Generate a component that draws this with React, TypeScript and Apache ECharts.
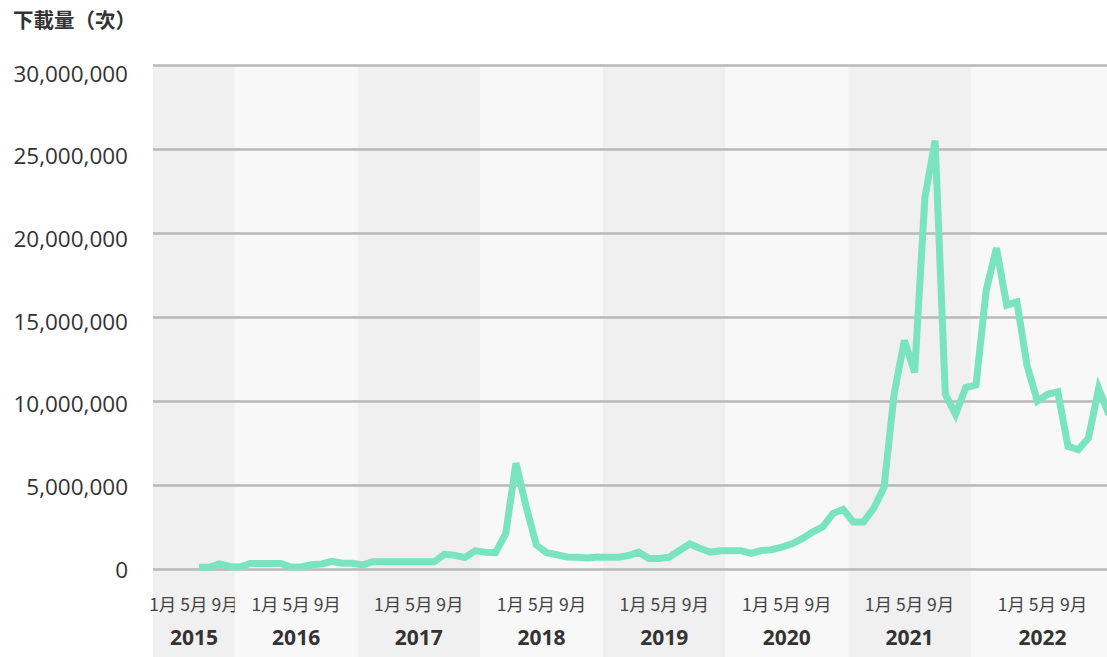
import React, { useEffect, useRef } from 'react';
import * as echarts from 'echarts';

// Monthly categories from 2015-05 to 2023-02
const firstMonth = '2015-05';
const lastMonth = '2023-02';
const months: string[] = [];
{
  let [y, m] = firstMonth.split('-').map(Number);
  while (true) {
    const key = `${y}-${String(m).padStart(2, '0')}`;
    months.push(key);
    if (key === lastMonth) break;
    m++;
    if (m > 12) { m = 1; y++; }
  }
}

// Monthly downloads (次)
const downloads: (number | null)[] = [
  // 2015 May-Dec
  null, null, null, null, 100000, 100000, 300000, 150000,
  // 2016
  120000, 330000, 330000, 330000, 330000, 120000, 120000, 250000, 300000, 450000, 340000, 340000,
  // 2017
  240000, 430000, 430000, 430000, 430000, 430000, 430000, 430000, 870000, 820000, 680000, 1080000,
  // 2018
  1000000, 970000, 2100000, 6300000, 3700000, 1430000, 970000, 850000, 720000, 700000, 650000, 720000,
  // 2019
  700000, 700000, 800000, 1000000, 630000, 630000, 700000, 1100000, 1490000, 1230000, 1000000, 1080000,
  // 2020
  1090000, 1090000, 930000, 1100000, 1150000, 1300000, 1500000, 1800000, 2200000, 2500000, 3300000, 3550000,
  // 2021
  2800000, 2800000, 3620000, 4850000, 10450000, 13600000, 11700000, 22100000, 25500000, 10400000, 9200000, 10800000,
  // 2022
  10950000, 16600000, 19100000, 15700000, 15900000, 12100000, 10000000, 10400000, 10550000, 7300000, 7100000, 7800000,
  // 2023 Jan-Feb
  10750000, 9200000,
];

const yearLabels = ['2015', '2016', '2017', '2018', '2019', '2020', '2021', '2022'];
const yearBandStart = ['2015-05', '2016-01', '2017-01', '2018-01', '2019-01', '2020-01', '2021-01', '2022-01'];
const yearBandEnd = ['2015-12', '2016-12', '2017-12', '2018-12', '2019-12', '2020-12', '2021-12', '2023-02'];
const monthTickText = '1月 5月 9月';
const yAxisTitle = '下載量（次）';

const yMin = 0;
const yMax = 30000000;
const yInterval = 5000000;

const FONT = '"Open Sans", "Noto Sans", "Noto Sans CJK TC", sans-serif';
const CJK_FONT = '"Noto Sans CJK TC", "Noto Sans", sans-serif';
const yLabelShift = [0, 1, 2, 4, 5, 6, 8];

const CHART_WIDTH = 1114; // chart is a little wider than the visible page

export default function App() {
  const ref = useRef<HTMLDivElement>(null);

  useEffect(() => {
    if (!ref.current) return;
    const chart = echarts.init(ref.current, undefined, { renderer: 'svg' });

    const bandData = yearLabels.map((label, i) => [
      months.indexOf(yearBandStart[i]),
      months.indexOf(yearBandEnd[i]),
      i,
    ]);

    const rich: Record<string, any> = {};
    yLabelShift.forEach((s, i) => {
      rich['o' + i] = {
        padding: [2 * s, 0, 0, 0],
        fontSize: 22.5,
        fontFamily: FONT,
        color: '#333333',
      };
    });

    const gridLeft = 153;
    const gridRight = 0;

    chart.setOption({
      animation: false,
      backgroundColor: '#ffffff',
      title: {
        text: yAxisTitle,
        left: 8,
        top: 4,
        textStyle: {
          fontFamily: CJK_FONT,
          fontSize: 20.5,
          fontWeight: 'bold',
          color: '#333333',
        },
      },
      grid: [
        { left: gridLeft, right: gridRight, top: 65, bottom: 88, containLabel: false },
        { left: gridLeft, right: gridRight, top: 65, bottom: 0, containLabel: false },
      ],
      xAxis: [
        {
          type: 'category',
          gridIndex: 0,
          data: months,
          boundaryGap: true,
          axisLine: { show: false },
          axisTick: { show: false },
          axisLabel: { show: false },
          splitLine: { show: false },
        },
        {
          type: 'category',
          gridIndex: 1,
          data: months,
          boundaryGap: true,
          axisLine: { show: false },
          axisTick: { show: false },
          axisLabel: { show: false },
          splitLine: { show: false },
        },
      ],
      yAxis: [
        {
          type: 'value',
          gridIndex: 0,
          min: yMin,
          max: yMax,
          interval: yInterval,
          axisLine: { show: false },
          axisTick: { show: false },
          axisLabel: {
            margin: 25,
            formatter: (v: number, i: number) =>
              `{o${i}|${Number(v).toLocaleString('en-US')}}`,
            rich,
          },
          splitLine: { lineStyle: { color: '#b8b8b8', width: 2.5 } },
        },
        {
          type: 'value',
          gridIndex: 1,
          min: 0,
          max: 1,
          show: false,
          splitLine: { show: false },
        },
      ],
      series: [
        {
          type: 'custom',
          xAxisIndex: 1,
          yAxisIndex: 1,
          z: -5,
          silent: true,
          data: bandData,
          encode: { x: [0, 1] },
          renderItem: (params: any, api: any) => {
            const s = api.value(0);
            const e = api.value(1);
            const idx = api.value(2);
            const w = api.size([1, 0])[0];
            const x0 = api.coord([s, 0])[0] - w / 2;
            const x1 = api.coord([e, 0])[0] + w / 2;
            const cs = params.coordSys;
            const cx = (x0 + x1) / 2;
            const bottom = cs.y + cs.height;
            return {
              type: 'group',
              children: [
                {
                  type: 'rect',
                  shape: { x: x0, y: cs.y, width: x1 - x0, height: cs.height },
                  style: { fill: idx % 2 === 0 ? '#f0f0f0' : '#f8f8f8' },
                },
                {
                  type: 'text',
                  x: cx,
                  y: bottom - 54,
                  style: {
                    text: monthTickText,
                    fill: '#444444',
                    fontSize: 17.5,
                    fontFamily: CJK_FONT,
                    align: 'center',
                    verticalAlign: 'middle',
                  },
                },
                {
                  type: 'text',
                  x: cx,
                  y: bottom - 20,
                  style: {
                    text: yearLabels[idx],
                    fill: '#333333',
                    fontSize: 21,
                    fontWeight: 'bold',
                    fontFamily: FONT,
                    align: 'center',
                    verticalAlign: 'middle',
                  },
                },
              ],
            };
          },
        },
        {
          type: 'line',
          name: '下載量',
          xAxisIndex: 0,
          yAxisIndex: 0,
          data: downloads,
          showSymbol: false,
          symbol: 'none',
          connectNulls: false,
          lineStyle: { color: '#7ae3c0', width: 7, join: 'miter' },
          itemStyle: { color: '#7ae3c0' },
          z: 3,
        },
      ],
    });

    return () => chart.dispose();
  }, []);

  return (
    <div
      style={{
        position: 'absolute',
        left: 0,
        top: 0,
        width: 1107,
        height: 657,
        overflow: 'hidden',
      }}
    >
      <div ref={ref} style={{ width: CHART_WIDTH, height: 657 }} />
    </div>
  );
}
